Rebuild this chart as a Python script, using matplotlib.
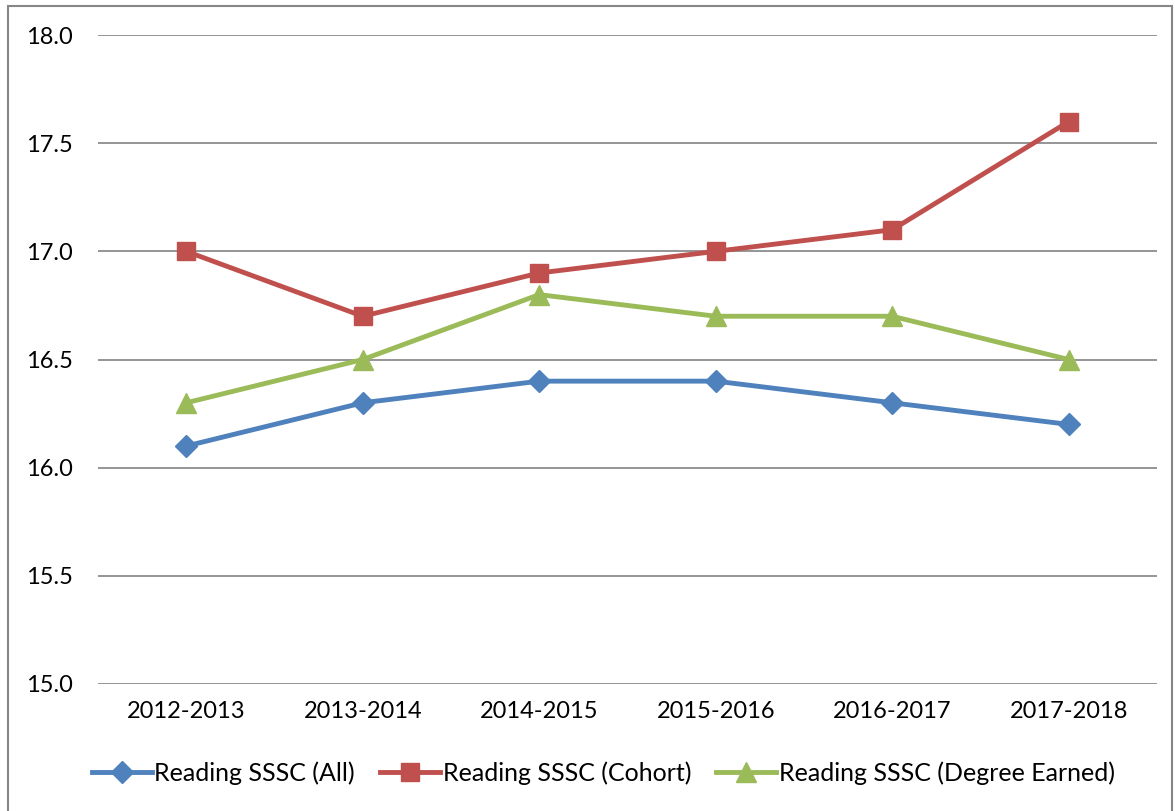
import matplotlib.pyplot as plt
from matplotlib.patches import Rectangle

years = ["2012-2013", "2013-2014", "2014-2015", "2015-2016", "2016-2017", "2017-2018"]
all_students = [16.1, 16.3, 16.4, 16.4, 16.3, 16.2]
cohort = [17.0, 16.7, 16.9, 17.0, 17.1, 17.6]
degree_earned = [16.3, 16.5, 16.8, 16.7, 16.7, 16.5]

plt.rcParams['font.family'] = ['Lato', 'DejaVu Sans']

fig = plt.figure(figsize=(11.75, 8.11), dpi=100)
ax = fig.add_axes([0.0834, 0.1566, 0.9013, 0.8002])

x = range(len(years))
ax.plot(x, all_students, color="#4F81BD", lw=3.5, marker="D", ms=11, label="Reading SSSC (All)")
ax.plot(x, cohort, color="#C0504D", lw=3.5, marker="s", ms=13, label="Reading SSSC (Cohort)")
ax.plot(x, degree_earned, color="#9BBB59", lw=3.5, marker="^", ms=14, label="Reading SSSC (Degree Earned)")

ax.set_xlim(-0.5, len(years) - 0.5)
ax.set_ylim(15.0, 18.0)
ax.set_yticks([15.0, 15.5, 16.0, 16.5, 17.0, 17.5, 18.0])
ax.set_yticklabels([f"{v:.1f}" for v in ax.get_yticks()])
ax.set_xticks(list(x))
ax.set_xticklabels(years)
ax.tick_params(axis='both', length=0, labelsize=17, colors="black")
ax.tick_params(axis='y', pad=18)
ax.tick_params(axis='x', pad=12)
ax.grid(axis='y', color="#8C8C8C", lw=1.3)
ax.set_axisbelow(True)
for s in ax.spines.values():
    s.set_visible(False)

fig.legend(*ax.get_legend_handles_labels(), loc="center left", bbox_to_anchor=(92 / 1175, 1 - 773 / 811),
           ncol=3, frameon=False, fontsize=18, handlelength=2.4, handletextpad=0.1, columnspacing=1.0,
           borderaxespad=0, borderpad=0)

fig.patches.append(Rectangle((8 / 1175, -0.01), 1164 / 1175, 1 - 6 / 811 + 0.01,
                             transform=fig.transFigure, fill=False, edgecolor="#868686", lw=1.5))

fig.savefig("out.png", dpi=100)
